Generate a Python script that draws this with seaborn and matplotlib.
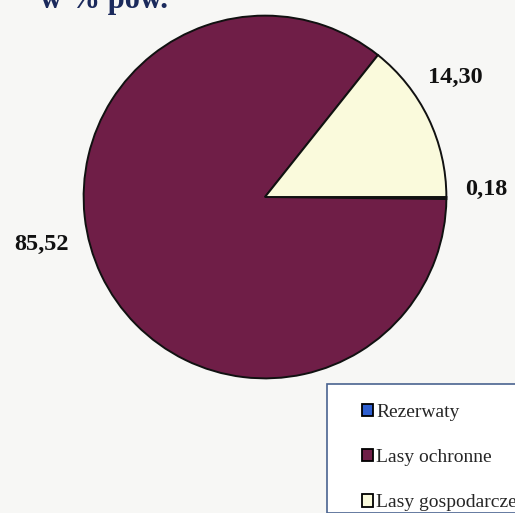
import matplotlib
matplotlib.use("Agg")
import matplotlib.pyplot as plt
import seaborn as sns
from matplotlib.patches import Rectangle

# Data
categories = ["Rezerwaty", "Lasy ochronne", "Lasy gospodarcze"]
shares = [0.18, 85.52, 14.30]
colors = ["#2E5FD0", "#6F1E47", "#FAFADC"]

sns.set_theme(style="white")
plt.rcParams["font.family"] = ["Liberation Serif", "DejaVu Serif"]

fig = plt.figure(figsize=(5.15, 5.13), dpi=100)
fig.patch.set_facecolor("#F7F7F5")

# pie axes: centre ~ (265,197) px, radius ~185 px
W, H = 515, 513
cx, cy, r = 265, 197, 185
ax = fig.add_axes([(cx - r) / W, (H - cy - r) / H, 2 * r / W, 2 * r / H])
ax.set_facecolor("none")

wedges, _ = ax.pie(
    shares,
    colors=colors,
    startangle=0,
    counterclock=False,
    radius=1,
    wedgeprops=dict(edgecolor="#111111", linewidth=1.4),
)
ax.set_xlim(-1.02, 1.02)
ax.set_ylim(-1.02, 1.02)
ax.set_aspect("equal")
ax.axis("off")

# value labels (Polish decimal comma)
label_pos = {"Rezerwaty": (1.22, 0.04), "Lasy ochronne": (-1.23, -0.26),
             "Lasy gospodarcze": (1.05, 0.66)}
for cat, val in zip(categories, shares):
    x, y = label_pos[cat]
    ax.text(x, y, f"{val:.2f}".replace(".", ","), ha="center", va="center",
            fontsize=17.5, fontweight="bold", color="#111111", clip_on=False)

# title, cut off by the top edge as in the scan
fig.text(40 / W, 1 - 8 / H, "w % pow.", ha="left", va="baseline",
         fontsize=22, fontweight="bold", color="#1B2A5C")

# legend box running off the bottom-right corner
fig.patches.append(Rectangle((327 / W, 0), 0.5, (H - 384) / H,
                             transform=fig.transFigure, facecolor="white",
                             edgecolor="#4A6390", linewidth=1.2))
handles = [Rectangle((0, 0), 1, 1, facecolor=c, edgecolor="black", linewidth=1.3)
           for c in colors]
fig.legend(handles, categories, loc="upper left",
           bbox_to_anchor=(352 / W, 1 - 394 / H), frameon=False,
           fontsize=14, handlelength=0.6, handleheight=0.6,
           handletextpad=0.15, labelspacing=1.45, borderpad=0)

fig.savefig("out.png", dpi=100, facecolor=fig.get_facecolor())
